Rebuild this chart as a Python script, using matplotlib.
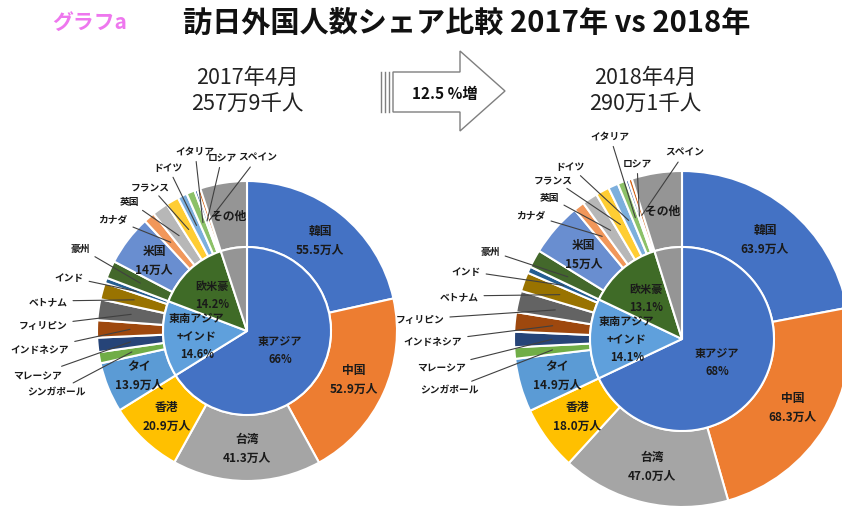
import matplotlib.pyplot as plt
from matplotlib.patches import Polygon
import numpy as np

plt.rcParams['font.family'] = ['Noto Sans CJK JP', 'DejaVu Sans']

# --- data (万人) ---------------------------------------------------------
countries = ['韓国', '中国', '台湾', '香港',
             'タイ', 'シンガポール', 'マレーシア', 'インドネシア', 'フィリピン', 'ベトナム', 'インド',
             '豪州', '米国', 'カナダ', '英国', 'フランス', 'ドイツ', 'イタリア', 'ロシア', 'スペイン',
             'その他']
groups = ['東アジア', '東南アジア\n+インド', '欧米豪', 'その他']
group_of = [0, 0, 0, 0,
            1, 1, 1, 1, 1, 1, 1,
            2, 2, 2, 2, 2, 2, 2, 2, 2,
            3]

visitors_2017 = [55.5, 52.9, 41.3, 20.9,
                 13.9, 3.1, 4.0, 4.8, 5.8, 4.6, 1.5,
                 4.9, 14.0, 3.1, 4.4, 3.6, 2.6, 2.3, 0.8, 0.9,
                 13.0]
visitors_2018 = [63.9, 68.3, 47.0, 18.0,
                 14.9, 3.2, 4.3, 5.4, 6.0, 5.3, 1.8,
                 5.0, 15.0, 3.0, 4.3, 3.8, 2.8, 2.3, 0.8, 1.0,
                 14.0]

totals = ['257万9千人', '290万1千人']
months = ['2017年4月', '2018年4月']
growth = '12.5 %増'

country_colors = ['#4472C4', '#ED7D31', '#A5A5A5', '#FFC000',
                  '#5B9BD5', '#70AD47', '#264478', '#9E480E', '#636363', '#997300', '#255E91',
                  '#43682B', '#698ED0', '#F1975A', '#B7B7B7', '#FFCD33', '#7CAFDD', '#8CC168',
                  '#335AA1', '#D26012', '#959595']
group_colors = ['#4472C4', '#5FA0DC', '#3F6B27', '#959595']

# countries labelled inside the ring
inside = ['韓国', '中国', '台湾', '香港', 'タイ', '米国', 'その他']

# --- layout (pixel coords, y from top) -----------------------------------
W, H = 842, 510
charts = [
    dict(cx=247, cy=332, R=150, r=84, vals=visitors_2017, head=(247, 78),
         labels={'イタリア': (195, 152), 'ロシア': (222, 158), 'スペイン': (258, 158),
                 'ドイツ': (168, 168), 'フランス': (150, 187), '英国': (129, 202),
                 'カナダ': (113, 220), '豪州': (80, 249), 'インド': (69, 278),
                 'ベトナム': (48, 302), 'フィリピン': (43, 326), 'インドネシア': (40, 350),
                 'マレーシア': (37, 376), 'シンガポール': (56, 393)}),
    dict(cx=682, cy=340, R=168, r=92, vals=visitors_2018, head=(645, 78),
         labels={'イタリア': (610, 137), 'ロシア': (637, 164), 'スペイン': (685, 153),
                 'ドイツ': (570, 167), 'フランス': (553, 180), '英国': (549, 198),
                 'カナダ': (531, 216), '豪州': (490, 252), 'インド': (466, 272),
                 'ベトナム': (459, 297), 'フィリピン': (420, 320), 'インドネシア': (433, 342),
                 'マレーシア': (441, 368), 'シンガポール': (449, 391)}),
]

fig = plt.figure(figsize=(W / 100, H / 100), dpi=100)
ax = fig.add_axes([0, 0, 1, 1])


def Y(y):
    return H - y


def point(wedge, cx, cy, rad):
    mid = np.deg2rad((wedge.theta1 + wedge.theta2) / 2)
    return cx + rad * np.cos(mid), Y(cy) + rad * np.sin(mid)


for ch in charts:
    cx, cy, R, r, vals = ch['cx'], ch['cy'], ch['R'], ch['r'], ch['vals']
    gvals = [sum(v for v, g in zip(vals, group_of) if g == k) for k in range(len(groups))]
    total = sum(vals)

    outer, _ = ax.pie(vals, radius=R, center=(cx, Y(cy)), startangle=90, counterclock=False,
                      colors=country_colors, frame=True,
                      wedgeprops=dict(width=R - r, edgecolor='white', linewidth=1.5))
    inner, _ = ax.pie(gvals, radius=r, center=(cx, Y(cy)), startangle=90, counterclock=False,
                      colors=group_colors, frame=True,
                      wedgeprops=dict(edgecolor='white', linewidth=1.5))

    # inner ring labels
    for k, w in enumerate(inner[:3]):
        share = gvals[k] / total * 100
        txt = f'{share:.0f}%' if k == 0 else f'{share:.1f}%'
        x, y = point(w, cx, cy, r * (0.45 if k == 0 else 0.6))
        ax.text(x, y, f'{groups[k]}\n{txt}', ha='center', va='center', fontsize=8,
                fontweight='bold', color='#1a1a1a', linespacing=1.5)

    # outer ring labels
    mid_r = (R + r) / 2
    for name, v, w in zip(countries, vals, outer):
        if name in inside:
            x, y = point(w, cx, cy, mid_r)
            if name == 'その他':
                s = name
            elif name == '米国':
                s = f'{name}\n{v:.0f}万人'
            else:
                s = f'{name}\n{v:.1f}万人'
            ax.text(x, y, s, ha='center', va='center', fontsize=8.5, fontweight='bold',
                    color='#1a1a1a', linespacing=1.6)
        else:
            tx, ty = ch['labels'][name]
            ax.annotate(name, xy=point(w, cx, cy, mid_r), xytext=(tx, Y(ty)),
                        ha='center', va='center', fontsize=7, fontweight='bold', color='#1a1a1a',
                        arrowprops=dict(arrowstyle='-', color='#404040', lw=0.8,
                                        shrinkA=2, shrinkB=0))

# headers
for ch, m, t in zip(charts, months, totals):
    hx, hy = ch['head']
    ax.text(hx, Y(hy), m, ha='center', va='center', fontsize=15.5, color='#222222')
    ax.text(hx, Y(hy + 26), t, ha='center', va='center', fontsize=15.5, color='#222222')

# arrow
arrow = [(393, 73), (460, 73), (460, 52), (505, 92), (460, 132), (460, 113), (393, 113)]
ax.add_patch(Polygon([(x, Y(y)) for x, y in arrow], closed=True, facecolor='white',
                     edgecolor='#7F7F7F', lw=1))
for lx in (381, 385, 389):
    ax.plot([lx, lx], [Y(73), Y(113)], color='#7F7F7F', lw=1)
ax.text(445, Y(94), growth, ha='center', va='center', fontsize=11, fontweight='bold',
        color='#111111')

# title
ax.text(90, Y(22), 'グラフa', ha='center', va='center', fontsize=15, fontweight='bold',
        color='#EE77EE')
ax.text(467, Y(23), '訪日外国人数シェア比較 2017年 vs 2018年', ha='center', va='center',
        fontsize=21, fontweight='bold', color='#111111')

ax.set_xlim(0, W)
ax.set_ylim(0, H)
ax.set_aspect('equal')
ax.axis('off')

fig.savefig('out.png', dpi=100, facecolor='white')
